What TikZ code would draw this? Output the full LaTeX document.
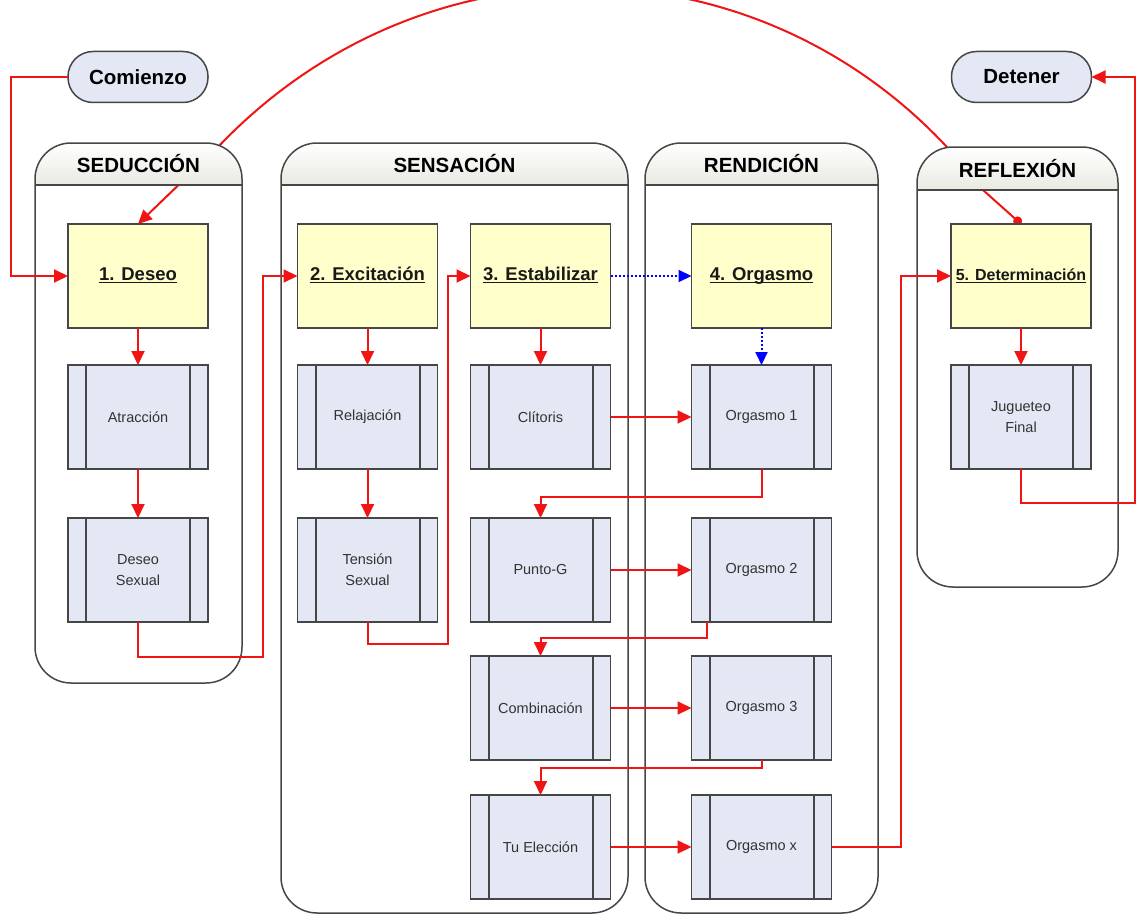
\documentclass[tikz,border=0pt]{standalone}
\usepackage{fontspec}
\setmainfont{Liberation Sans}
\usetikzlibrary{arrows.meta,calc}
\pgfdeclarelayer{back}\pgfdeclarelayer{arc}\pgfdeclarelayer{lanes}
\pgfsetlayers{back,arc,lanes,main}
\definecolor{yel}{RGB}{255,255,204}
\definecolor{pbox}{RGB}{227,232,244}
\definecolor{edge}{RGB}{70,70,70}
\definecolor{rl}{RGB}{240,20,20}
\definecolor{hdrb}{RGB}{234,234,226}
\newcommand\ulbl[1]{\underline{\smash{#1}}}
\tikzset{
 lanebox/.style={draw=edge, line width=1.5pt},
 stepbox/.style={draw=edge, fill=yel, line width=1.5pt, minimum width=140pt, minimum height=104pt, inner sep=0pt, outer sep=0pt, text height=9pt, text depth=0pt, font=\bfseries\fontsize{18.5}{22}\selectfont, text=black!90},
 procbox/.style={draw=edge, fill=pbox, line width=1.5pt, minimum width=140pt, minimum height=104pt, inner sep=0pt, outer sep=0pt, align=center, font=\fontsize{14.5}{21}\selectfont, text=black!80,
   path picture={\draw[edge, line width=2pt] ([xshift=18pt]path picture bounding box.north west) -- ([xshift=18pt]path picture bounding box.south west);
                 \draw[edge, line width=2pt] ([xshift=-18pt]path picture bounding box.north east) -- ([xshift=-18pt]path picture bounding box.south east);}},
 term/.style={draw=edge, fill=pbox, line width=1.5pt, rounded corners=25pt, minimum width=140pt, minimum height=51pt, inner sep=0pt, outer sep=0pt, font=\bfseries\fontsize{20.5}{24}\selectfont},
 lanetitle/.style={font=\bfseries\fontsize{20.5}{24}\selectfont},
 flow/.style={draw=rl, line width=2pt, -{Triangle[length=14pt,width=13pt]}},
 dotflow/.style={draw=blue, line width=2pt, dotted, -{Triangle[length=13pt,width=12pt]}},
}
\newcommand\mylane[7]{%
 \begin{scope}
  \clip[rounded corners=36pt] (#1,#3) rectangle (#2,#5);
  \shade[top color=white, bottom color=hdrb] (#1,#3) rectangle (#2,#4);
 \end{scope}
 \draw[lanebox, rounded corners=36pt] (#1,#3) rectangle (#2,#5);
 \draw[lanebox] (#1,#4) -- (#2,#4);
 \node[lanetitle] (#7) at ({(#1+#2)/2},{(#3+#4)/2}) {#6};}
\begin{document}
\begin{tikzpicture}[x=1pt,y=-1pt]
\clip (0,0) rectangle (1137,915);
\begin{pgfonlayer}{back}
\fill[white] (0,0) rectangle (1137,915);
\end{pgfonlayer}
\begin{pgfonlayer}{lanes}
\mylane{35}{242}{143}{185}{683}{SEDUCCIÓN}{lsed}
\mylane{281}{628}{143}{185}{913}{SENSACIÓN}{lsen}
\mylane{645}{878}{143}{185}{913}{RENDICIÓN}{lren}
\mylane{917}{1118}{147}{190}{587}{REFLEXIÓN}{lref}
\end{pgfonlayer}
% terminators
\node[term] (start) at (138,77) {Comienzo};
\node[term] (stop) at (1021.5,77) {Detener};
% steps
\node[stepbox] (deseo) at (138,276) {\ulbl{1. Deseo}};
\node[stepbox] (exc) at (367.5,276) {\ulbl{2. Excitación}};
\node[stepbox] (est) at (540.5,276) {\ulbl{3. Estabilizar}};
\node[stepbox] (org) at (761.5,276) {\ulbl{4. Orgasmo}};
\node[stepbox, font=\bfseries\fontsize{16}{19}\selectfont] (det) at (1021,276) {\ulbl{5. Determinación}};
% processes
\node[procbox] (atr) at (138,417) {Atracción};
\node[procbox] (dsx) at (138,570) {Deseo\\Sexual};
\node[procbox] (rel) at (367.5,417) {Relajación};
\node[procbox] (ten) at (367.5,570) {Tensión\\Sexual};
\node[procbox] (cli) at (540.5,417) {Clítoris};
\node[procbox] (pg) at (540.5,570) {Punto-G};
\node[procbox] (comb) at (540.5,708) {Combinación};
\node[procbox] (tu) at (540.5,847) {Tu Elección};
\node[procbox] (o1) at (761.5,417) {Orgasmo 1};
\node[procbox] (o2) at (761.5,570) {Orgasmo 2};
\node[procbox] (o3) at (761.5,708) {Orgasmo 3};
\node[procbox] (ox) at (761.5,847) {Orgasmo x};
\node[procbox] (jug) at (1021,417) {Jugueteo\\Final};
% connectors
\draw[flow] (start.west) -- ++(-57,0) |- (deseo.west);
\draw[flow] (deseo.south) -- (atr.north);
\draw[flow] (atr.south) -- (dsx.north);
\draw[flow] (dsx.south) -- ++(0,35) -| ($(exc.west)+(-35,0)$) -- (exc.west);
\draw[flow] (exc.south) -- (rel.north);
\draw[flow] (rel.south) -- (ten.north);
\draw[flow] (ten.south) -- ++(0,22) -| ($(est.west)+(-23,0)$) -- (est.west);
\draw[dotflow] (est.east) -- (org.west);
\draw[dotflow] (org.south) -- (o1.north);
\draw[flow] (est.south) -- (cli.north);
\draw[flow] (cli.east) -- (o1.west);
\draw[flow] (o1.south) -- ++(0,28) -| (pg.north);
\draw[flow] (pg.east) -- (o2.west);
\draw[flow] ([xshift=-54.5pt]o2.south) -- ++(0,16) -| (comb.north);
\draw[flow] (comb.east) -- (o3.west);
\draw[flow] (o3.south) -- ++(0,8) -| (tu.north);
\draw[flow] (tu.east) -- (ox.west);
\draw[flow] (ox.east) -- ++(69,0) |- (det.west);
\draw[flow] (det.south) -- (jug.north);
\draw[flow] (jug.south) -- ++(0,34) -| ($(stop.east)+(43,0)$) -- (stop.east);
\begin{pgfonlayer}{arc}
\draw[draw=rl, line width=2pt, {Circle[length=9pt]}-{Triangle[length=14pt,width=13pt]}]
  (det.north) -- (983,190) .. controls (793,-62) and (435,-81) .. (218,147) -- (deseo.north);
\end{pgfonlayer}
\end{tikzpicture}
\end{document}
